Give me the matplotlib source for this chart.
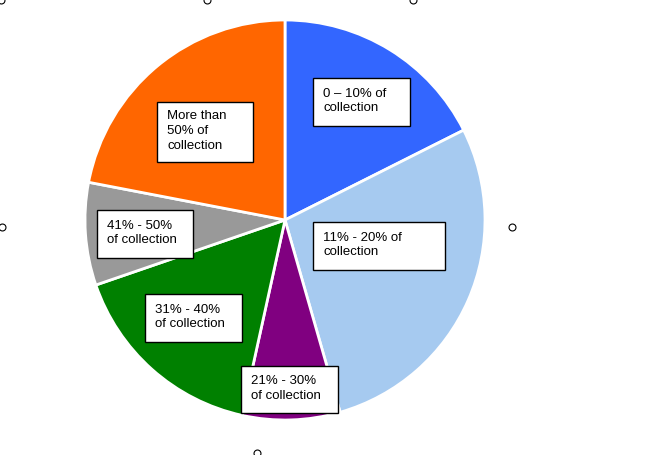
import matplotlib
matplotlib.use("Agg")
import matplotlib.pyplot as plt
from matplotlib.patches import Rectangle

categories = ["0 – 10% of\ncollection", "11% - 20% of\ncollection", "21% - 30%\nof collection",
              "31% - 40%\nof collection", "41% - 50%\nof collection", "More than\n50% of\ncollection"]
values = [17.6, 28.0, 7.9, 16.3, 8.3, 22.0]
colors = ["#3366FF", "#A6CAF0", "#800080", "#008000", "#999999", "#FF6600"]

# label boxes (x0, y0, x1, y1) in pixels of the reference picture
boxes_px = [(313, 79, 410, 127), (313, 223, 445, 271), (241, 367, 338, 414),
            (145, 295, 242, 343), (97, 211, 193, 259), (157, 103, 253, 163)]

W, H = 650, 456
fig = plt.figure(figsize=(W / 100, H / 100), dpi=100)

# overlay axes in pixel coordinates (for boxes and handles)
ov = fig.add_axes([0, 0, 1, 1], zorder=3)
ov.set_xlim(0, W)
ov.set_ylim(H, 0)
ov.axis("off")
ov.patch.set_alpha(0)

cx, cy, r = 285, 221, 200
ax = fig.add_axes([(cx - r) / W, (H - cy - r) / H, 2 * r / W, 2 * r / H], zorder=1)
ax.pie(values, colors=colors, startangle=90, counterclock=False, radius=1,
       wedgeprops=dict(edgecolor="white", linewidth=2))
ax.set_xlim(-1, 1)
ax.set_ylim(-1, 1)
ax.set_aspect("auto")
ax.axis("off")

for lab, (x0, y0, x1, y1) in zip(categories, boxes_px):
    ov.add_patch(Rectangle((x0, y0), x1 - x0, y1 - y0, facecolor="white",
                           edgecolor="black", linewidth=1))
    ov.text(x0 + 10, (y0 + y1) / 2 - 2, lab, ha="left", va="center",
            fontsize=9.5, family=["Liberation Sans", "DejaVu Sans"], linespacing=1.32)

# selection handles
hx = [2, 512, 257, 1, 207, 413]
hy = [228, 228, 454, 1, 1, 1]
ov.plot(hx, hy, "o", ms=5, mfc="white", mec="black", mew=0.8, clip_on=False)

fig.savefig("out.png", dpi=100)
